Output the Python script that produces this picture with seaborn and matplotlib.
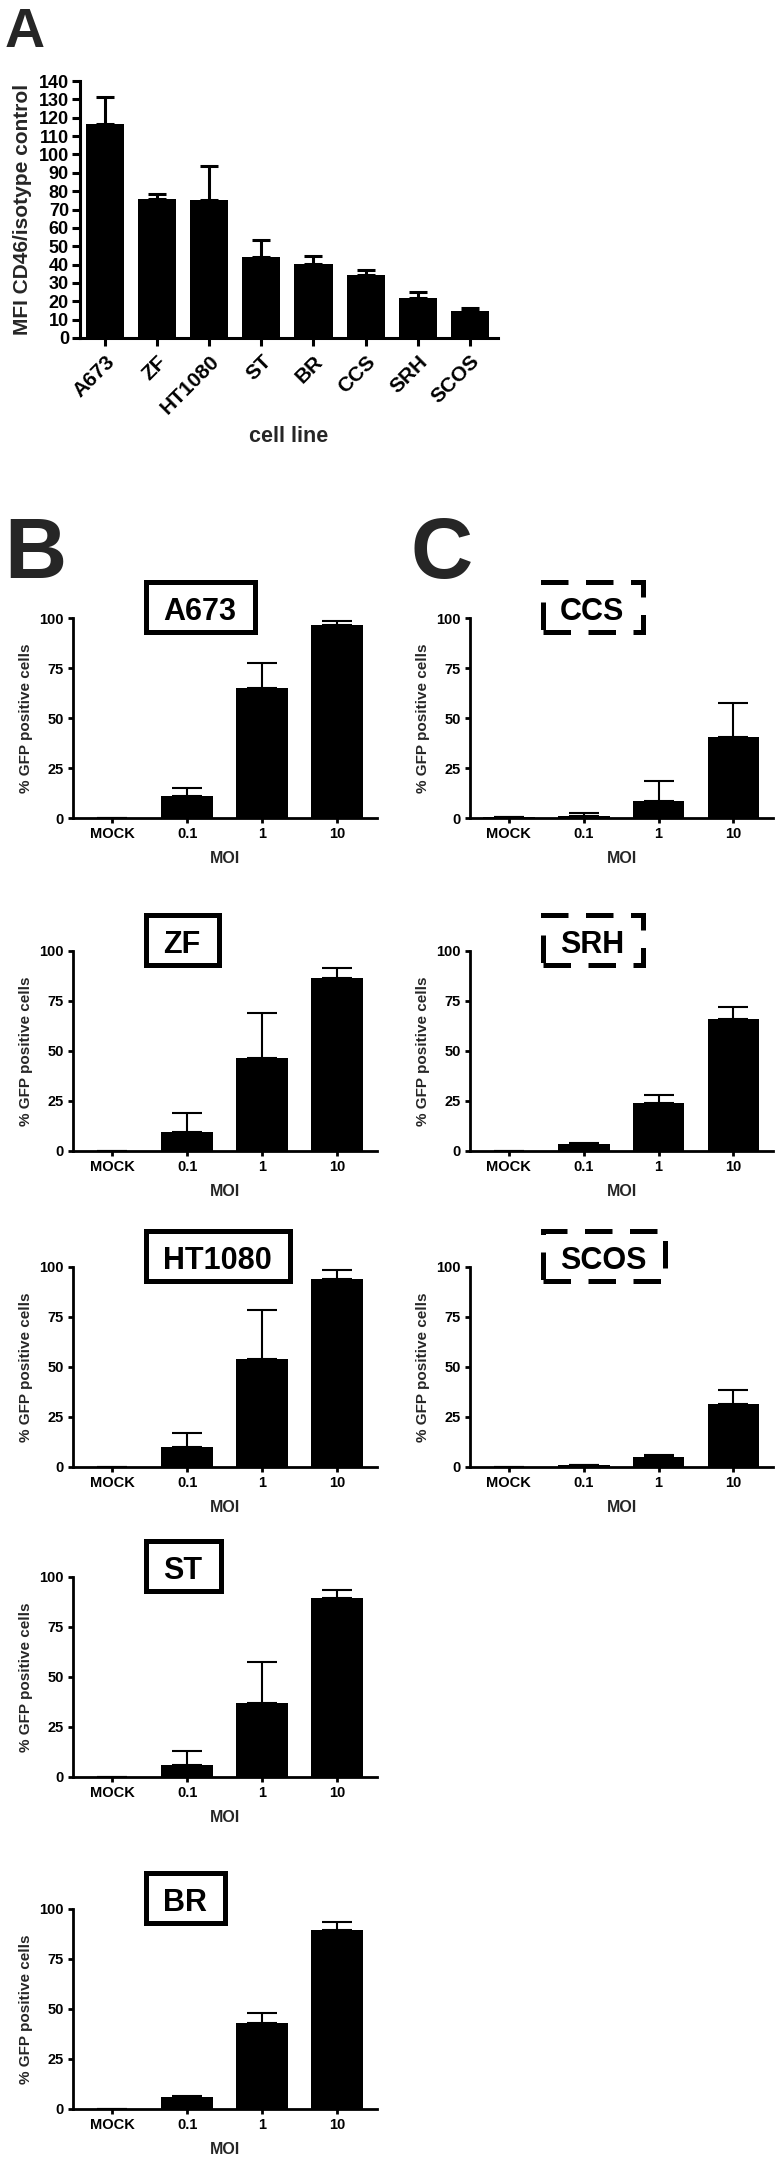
import numpy as np
import pandas as pd
import matplotlib
matplotlib.use('Agg')
import matplotlib.pyplot as plt
from matplotlib.patches import Rectangle
import seaborn as sns

# A: CD46 expression per cell line
cell_lines = ['A673', 'ZF', 'HT1080', 'ST', 'BR', 'CCS', 'SRH', 'SCOS']
mfi_mean = [116.5, 75.6, 75.1, 44.2, 40.5, 34.4, 21.8, 14.5]
mfi_sem = [15.0, 3.1, 18.7, 9.1, 3.9, 2.5, 3.3, 1.9]

# B / C: % GFP positive cells vs MOI
moi = ['MOCK', '0.1', '1', '10']
a673_mean = [0, 11.0, 64.9, 96.5]
a673_sem = [0, 3.9, 12.5, 1.8]
zf_mean = [0, 9.7, 46.5, 86.5]
zf_sem = [0, 9.5, 22.6, 5.1]
ht1080_mean = [0, 10.0, 54.2, 94.2]
ht1080_sem = [0, 7.2, 24.1, 4.5]
st_mean = [0, 6.2, 37.0, 89.5]
st_sem = [0, 6.6, 20.5, 3.8]
br_mean = [0, 5.8, 43.2, 89.5]
br_sem = [0, 0.5, 4.6, 4.2]
ccs_mean = [0.3, 1.0, 8.5, 40.3]
ccs_sem = [0, 1.7, 9.9, 17.1]
srh_mean = [0.2, 3.3, 24.0, 66.1]
srh_sem = [0, 0.5, 4.1, 6.1]
scos_mean = [0, 0.8, 5.0, 31.5]
scos_sem = [0, 0.2, 0.8, 6.8]

sns.set_style('ticks')
plt.rcParams['font.family'] = ['Liberation Sans', 'DejaVu Sans']
plt.rcParams['font.weight'] = 'bold'
plt.rcParams['axes.labelweight'] = 'bold'

W, H = 780, 2160
fig = plt.figure(figsize=(W / 100, H / 100), dpi=100)


def px_axes(left, top, right, bottom):
    return fig.add_axes([left / W, 1 - bottom / H, (right - left) / W, (bottom - top) / H])


def style(ax, lw, tlen):
    sns.despine(ax=ax)
    for s in ('left', 'bottom'):
        ax.spines[s].set_linewidth(lw)
        ax.spines[s].set_color('black')
    ax.tick_params(length=tlen, width=lw, colors='black')


# ---- panel A
ax = px_axes(80, 81, 498, 338)
dfa = pd.DataFrame({'line': cell_lines, 'mfi': mfi_mean})
sns.barplot(data=dfa, x='line', y='mfi', order=cell_lines, color='black', saturation=1,
            width=0.73, errorbar=None, linewidth=0, ax=ax)
ax.errorbar(np.arange(len(cell_lines)), mfi_mean, yerr=[np.zeros(len(mfi_sem)), mfi_sem],
            fmt='none', ecolor='black', elinewidth=2.2, capsize=6.5, capthick=2.2)
ax.set_ylim(0, 140)
ax.set_yticks(range(0, 141, 10))
ax.set_xlim(-0.48, 7.54)
style(ax, 2.2, 6)
ax.tick_params(axis='y', labelsize=13, pad=2)
ax.tick_params(axis='x', labelsize=15, pad=4)
plt.setp(ax.get_xticklabels(), rotation=45, ha='right', rotation_mode='anchor')
ax.set_xlabel('cell line', fontsize=15.5, labelpad=6)
ax.set_ylabel('MFI CD46/isotype control', fontsize=15, labelpad=5)

fig.text(5 / W, 1 - 47 / H, 'A', fontsize=40, fontweight='bold', va='baseline')
fig.text(4 / W, 1 - 578 / H, 'B', fontsize=62, fontweight='bold', va='baseline')
fig.text(410 / W, 1 - 578 / H, 'C', fontsize=62, fontweight='bold', va='baseline')

# ---- panels B and C
panels = [
    ('A673', a673_mean, a673_sem, 73, 377, 618, 818, False),
    ('ZF', zf_mean, zf_sem, 73, 377, 951, 1151, False),
    ('HT1080', ht1080_mean, ht1080_sem, 73, 377, 1267, 1467, False),
    ('ST', st_mean, st_sem, 73, 377, 1577, 1777, False),
    ('BR', br_mean, br_sem, 73, 377, 1909, 2109, False),
    ('CCS', ccs_mean, ccs_sem, 470, 773, 618, 818, True),
    ('SRH', srh_mean, srh_sem, 470, 773, 951, 1151, True),
    ('SCOS', scos_mean, scos_sem, 470, 773, 1267, 1467, True),
]

titles = []
for name, mean, sem, left, right, top, bottom, dashed in panels:
    ax = px_axes(left, top, right, bottom)
    df = pd.DataFrame({'moi': moi, 'pct': mean})
    sns.barplot(data=df, x='moi', y='pct', order=moi, color='black', saturation=1,
                width=0.69, errorbar=None, linewidth=0, ax=ax)
    ax.errorbar(np.arange(len(moi)), mean, yerr=[np.zeros(len(sem)), sem],
                fmt='none', ecolor='black', elinewidth=1.5, capsize=11, capthick=1.5)
    ax.set_ylim(0, 100)
    ax.set_yticks([0, 25, 50, 75, 100])
    ax.set_xlim(-0.52, 3.53)
    style(ax, 2.0, 3.5)
    ax.tick_params(labelsize=10.5, pad=3)
    ax.set_xlabel('MOI', fontsize=11.5, labelpad=7)
    ax.set_ylabel('% GFP positive cells', fontsize=11, labelpad=5)

    # framed cell-line name above the axes
    bx, by = left + 70, top - 39
    t = fig.text((bx + 20) / W, 1 - (by + 41) / H, name, fontsize=22, fontweight='bold',
                 va='baseline', color='black')
    titles.append((t, bx, by, dashed))

renderer = fig.canvas.get_renderer()
for t, bx, by, dashed in titles:
    bb = t.get_window_extent(renderer)
    x0, x1 = bx + 2.5, bb.x1 + 21 - 2.5
    y0, y1 = by + 2.5, by + 55 - 2.5
    ls = (0, (5.5, 3.5)) if dashed else '-'
    fig.add_artist(Rectangle((x0 / W, 1 - y1 / H), (x1 - x0) / W, (y1 - y0) / H,
                             transform=fig.transFigure, fill=False, ec='black',
                             lw=3.6, ls=ls, joinstyle='miter'))

fig.savefig('out.png', dpi=100, facecolor='white')
